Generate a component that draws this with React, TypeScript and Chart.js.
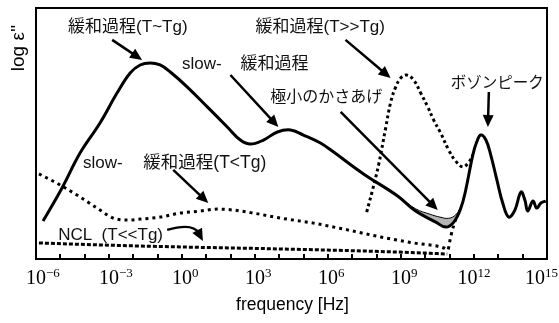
import React, { useEffect, useRef } from "react";
import { Chart, registerables } from "chart.js";

Chart.register(...registerables);

// x values are log10(frequency / Hz); y values are log ε'' (arbitrary units, 0–10)
const xTickExponents = [-6, -3, 0, 3, 6, 9, 12, 15];

// main solid curve (T ~ Tg + slow relaxation + boson peak)
const mainLogF = [-5.71, -4.93, -4.19, -3.37, -2.67, -2.13, -1.72, -1.31, -0.9, -0.48, 0.22, 1.04, 1.86, 2.4, 2.81, 3.35, 3.92, 4.46, 4.99, 5.69, 6.23, 7.46, 8.86, 9.6, 10.43, 10.84, 11.17, 11.46, 11.66, 11.95, 12.11, 12.28, 12.49, 12.69, 12.94, 13.18, 13.43, 13.68, 13.93, 14.09, 14.21, 14.42, 14.58, 14.75, 14.95];
const mainLogEps = [1.51, 2.83, 4.22, 5.42, 6.61, 7.41, 7.73, 7.81, 7.73, 7.45, 6.85, 6.06, 5.26, 4.74, 4.58, 4.74, 5.06, 5.14, 4.94, 4.62, 4.26, 3.39, 2.51, 1.91, 1.47, 1.27, 1.47, 2.03, 2.75, 4.14, 4.66, 4.94, 4.74, 4.14, 3.15, 2.23, 1.67, 1.95, 2.67, 2.35, 1.91, 2.31, 2.03, 2.23, 2.31];

// raised minimum (極小のかさあげ)
const raisedLogF = [9.0, 9.6, 10.2, 10.6, 10.95, 11.25, 11.46, 11.66];
const raisedLogEps = [2.42, 2.0, 1.78, 1.67, 1.62, 1.76, 2.1, 2.75];

// T >> Tg relaxation (dotted)
const highTLogF = [7.59, 7.83, 8.08, 8.37, 8.57, 8.78, 8.99, 9.23, 9.52, 9.81, 10.1, 10.34, 10.63, 10.96, 11.25, 11.54, 11.79, 11.95];
const highTLogEps = [1.87, 2.75, 3.75, 5.22, 6.22, 6.85, 7.21, 7.33, 7.13, 6.61, 6.06, 5.54, 5.02, 4.34, 3.9, 3.67, 3.86, 4.14];

// T < Tg slow relaxation (dotted)
const lowTLogF = [-5.88, -5.01, -4.19, -3.37, -2.83, -2.25, -1.72, -0.9, -0.07, 0.75, 1.45, 2.11, 2.93, 4.05, 5.4, 6.8, 8.16, 9.52, 10.76, 10.92, 11.04, 11.17, 11.29];
const lowTLogEps = [3.39, 2.95, 2.47, 1.95, 1.63, 1.55, 1.59, 1.67, 1.83, 1.91, 1.99, 1.95, 1.83, 1.63, 1.43, 1.16, 0.88, 0.64, 0.44, 0.36, 0.88, 1.35, 1.71];

// NCL (T << Tg)
const nclLogF = [-5.88, -3.37, -0.07, 4.05, 8.78, 10.9];
const nclLogEps = [0.64, 0.56, 0.48, 0.4, 0.28, 0.2];

// annotation texts: text, logF, logEps (baseline), font size
const labelTexts = ["緩和過程(T~Tg)", "緩和過程(T>>Tg)", "slow-", "緩和過程", "極小のかさあげ", "ボゾンピーク", "slow-", "緩和過程(T<Tg)", "NCL  (T<<Tg)"];
const labelLogF = [-4.68, 3.02, 0.0, 2.4, 3.63, 11.04, -4.07, -1.59, -5.09];
const labelLogEps = [9.04, 9.04, 7.57, 7.57, 6.25, 6.81, 3.63, 3.63, 0.76];
const labelSizes = [17, 17, 17, 17, 16, 15.5, 17, 17.5, 17];

// straight arrows: [fromLogF, fromLogEps, toLogF, toLogEps]
const arrows = [
  [-2.87, 8.73, -1.64, 7.93],
  [1.99, 7.33, 3.96, 5.26],
  [6.72, 8.73, 8.57, 7.21],
  [6.52, 5.86, 10.51, 1.95],
  [12.61, 6.65, 12.57, 5.26],
  [-0.36, 3.55, 1.08, 2.23],
];
// curved arrow (NCL): start, control, end
const curvedArrow = [-0.61, 1.16, 0.45, 1.45, 0.86, 0.72];

const xTitle = "frequency [Hz]";
const yTitle = "log ε''";

const SANS = '"Liberation Sans", "Noto Sans CJK JP", sans-serif';
const SERIF = '"Liberation Serif", "Times New Roman", serif';

function pts(xs: number[], ys: number[]) {
  return xs.map((x, i) => ({ x, y: ys[i] }));
}

function head(ctx: CanvasRenderingContext2D, x2: number, y2: number, ang: number) {
  const L = 12, W = 5.5;
  ctx.beginPath();
  ctx.moveTo(x2, y2);
  ctx.lineTo(x2 - L * Math.cos(ang) + W * Math.sin(ang), y2 - L * Math.sin(ang) - W * Math.cos(ang));
  ctx.lineTo(x2 - L * Math.cos(ang) - W * Math.sin(ang), y2 - L * Math.sin(ang) + W * Math.cos(ang));
  ctx.closePath();
  ctx.fill();
}

const decorPlugin = {
  id: "decor",
  afterDatasetsDraw(chart: any) {
    const { ctx, chartArea: a, scales } = chart;
    const px = (v: number) => scales.x.getPixelForValue(v);
    const py = (v: number) => scales.y.getPixelForValue(v);
    ctx.save();
    ctx.strokeStyle = "#000";
    ctx.fillStyle = "#000";
    // frame
    ctx.lineWidth = 2;
    ctx.strokeRect(a.left, a.top, a.right - a.left, a.bottom - a.top);
    // inward ticks every decade
    ctx.beginPath();
    for (let e = -5; e <= 14; e++) {
      const x = Math.round(px(e));
      ctx.moveTo(x, a.bottom);
      ctx.lineTo(x, a.bottom - 5);
    }
    ctx.stroke();
    // tick labels 10^n
    ctx.textBaseline = "alphabetic";
    ctx.textAlign = "left";
    for (const e of xTickExponents) {
      const base = "10";
      const exp = (e < 0 ? "\u2212" : "") + String(Math.abs(e));
      ctx.font = `20px ${SERIF}`;
      const wb = ctx.measureText(base).width;
      ctx.font = `13px ${SERIF}`;
      const we = ctx.measureText(exp).width;
      let left = String(Math.abs(e)).length > 1 ? px(e) - (wb + we) / 2 : px(e) - wb / 2;
      if (left + wb + we > chart.width - 1) left = chart.width - 1 - wb - we;
      ctx.font = `20px ${SERIF}`;
      ctx.fillText(base, left, a.bottom + 25);
      ctx.font = `13px ${SERIF}`;
      ctx.fillText(exp, left + wb, a.bottom + 18);
    }
    // axis titles
    ctx.font = `17.5px ${SANS}`;
    ctx.textAlign = "center";
    ctx.fillText(xTitle, (a.left + a.right) / 2 + 1, a.bottom + 51);
    ctx.save();
    ctx.translate(a.left - 12, a.top + 40);
    ctx.rotate(-Math.PI / 2);
    ctx.font = `19px ${SANS}`;
    ctx.fillText(yTitle, 0, 0);
    ctx.restore();
    // annotation labels
    ctx.textAlign = "left";
    ctx.fillStyle = "#111";
    labelTexts.forEach((t, i) => {
      ctx.font = `${labelSizes[i]}px ${SANS}`;
      ctx.fillText(t, px(labelLogF[i]), py(labelLogEps[i]));
    });
    // arrows
    ctx.fillStyle = "#000";
    ctx.lineWidth = 2.5;
    for (const [x1v, y1v, x2v, y2v] of arrows) {
      const x1 = px(x1v), y1 = py(y1v), x2 = px(x2v), y2 = py(y2v);
      const ang = Math.atan2(y2 - y1, x2 - x1);
      ctx.beginPath();
      ctx.moveTo(x1, y1);
      ctx.lineTo(x2 - 10 * Math.cos(ang), y2 - 10 * Math.sin(ang));
      ctx.stroke();
      head(ctx, x2, y2, ang);
    }
    {
      const [sx, sy, cx, cy, ex, ey] = curvedArrow;
      const x1 = px(sx), y1 = py(sy), x2 = px(cx), y2 = py(cy), x3 = px(ex), y3 = py(ey);
      const ang = Math.atan2(y3 - y2, x3 - x2);
      ctx.beginPath();
      ctx.moveTo(x1, y1);
      ctx.quadraticCurveTo(x2, y2, x3 - 9 * Math.cos(ang), y3 - 9 * Math.sin(ang));
      ctx.stroke();
      head(ctx, x3, y3, ang);
    }
    ctx.restore();
  },
};

export default function App() {
  const ref = useRef<HTMLCanvasElement>(null);
  useEffect(() => {
    const chart = new Chart(ref.current as HTMLCanvasElement, {
      type: "line",
      data: {
        datasets: [
          {
            label: "main",
            data: pts(mainLogF, mainLogEps),
            borderColor: "#000",
            borderWidth: 3,
            tension: 0.4,
            fill: false,
          },
          {
            label: "raised minimum",
            data: pts(raisedLogF, raisedLogEps),
            borderColor: "#000",
            borderWidth: 1,
            backgroundColor: "#b4b4b4",
            tension: 0.4,
            fill: 0,
          },
          {
            label: "T>>Tg",
            data: pts(highTLogF, highTLogEps),
            borderColor: "#000",
            borderWidth: 3,
            borderDash: [3, 3],
            tension: 0.4,
            fill: false,
          },
          {
            label: "T<Tg",
            data: pts(lowTLogF, lowTLogEps),
            borderColor: "#000",
            borderWidth: 3,
            borderDash: [3, 4],
            cubicInterpolationMode: "monotone",
            fill: false,
          },
          {
            label: "NCL",
            data: pts(nclLogF, nclLogEps),
            borderColor: "#000",
            borderWidth: 3,
            borderDash: [4, 2],
            cubicInterpolationMode: "monotone",
            fill: false,
          },
        ],
      } as any,
      options: {
        animation: false,
        responsive: false,
        devicePixelRatio: 1,
        layout: { padding: { left: 36, right: 12, top: 8, bottom: 64 } },
        elements: { point: { radius: 0 }, line: { borderCapStyle: "butt" } },
        scales: {
          x: { type: "linear", min: -6, max: 15, display: false },
          y: { type: "linear", min: 0, max: 10, display: false },
        },
        plugins: { legend: { display: false }, tooltip: { enabled: false } },
      } as any,
      plugins: [decorPlugin],
    });
    return () => chart.destroy();
  }, []);
  return (
    <div style={{ position: "fixed", left: 0, top: 0, background: "#fff" }}>
      <canvas ref={ref} width={559} height={323} style={{ display: "block" }} />
    </div>
  );
}
